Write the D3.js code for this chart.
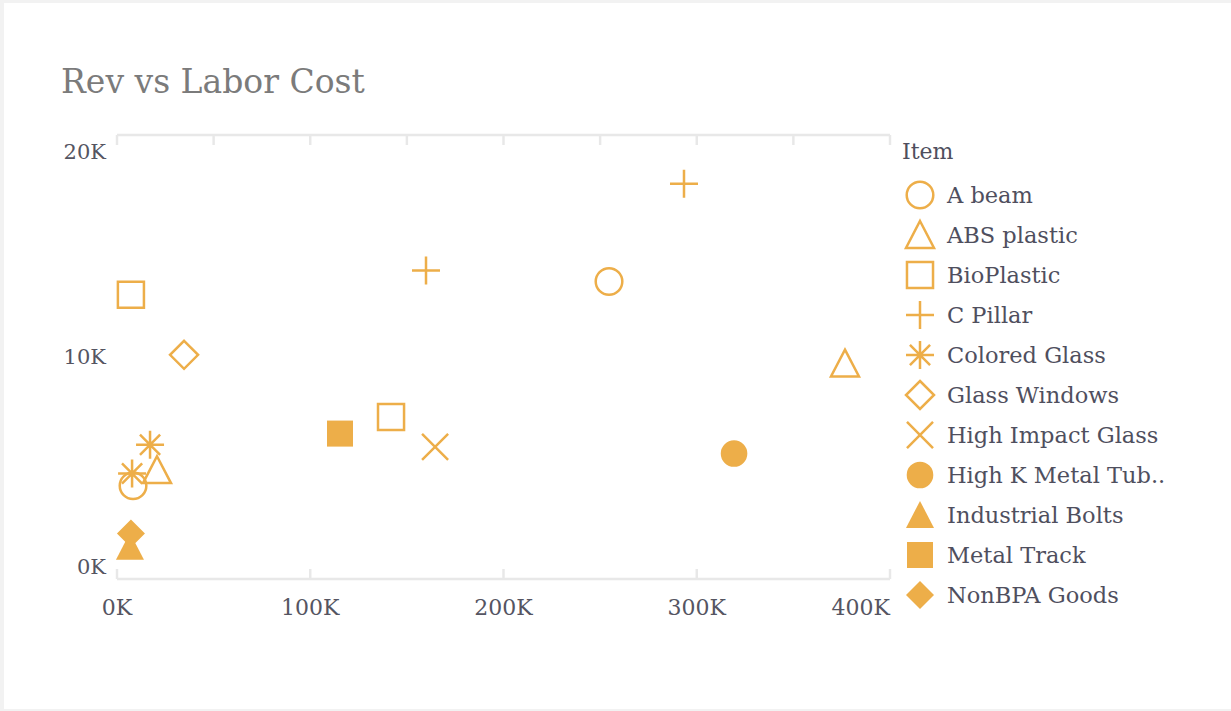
<!DOCTYPE html>
<html>
<head>
<meta charset="utf-8">
<script src="https://cdnjs.cloudflare.com/ajax/libs/d3/7.8.5/d3.min.js"></script>
<style>
  html, body { margin: 0; padding: 0; background: #f2f2f2; }
  #chart { position: absolute; left: 4px; top: 3px; width: 1227px; height: 706px; background: #fff; }
  text { font-family: "DejaVu Serif", serif; }
</style>
</head>
<body>
<div id="chart"></div>
<script>
// items (legend order) and their marker shapes
var items = ["A beam", "ABS plastic", "BioPlastic", "C Pillar", "Colored Glass", "Glass Windows",
             "High Impact Glass", "High K Metal Tub..", "Industrial Bolts", "Metal Track", "NonBPA Goods"];
var shapes = ["circle", "triangle", "square", "plus", "asterisk", "diamond",
              "x", "circleFill", "triangleFill", "squareFill", "diamondFill"];

// one row per point: item, labor cost (x), rev (y)
var pointItem = ["A beam", "A beam", "ABS plastic", "ABS plastic", "BioPlastic", "BioPlastic",
                 "C Pillar", "C Pillar", "Colored Glass", "Colored Glass", "Glass Windows",
                 "High Impact Glass", "High K Metal Tub..", "Industrial Bolts", "Metal Track", "NonBPA Goods"];
var laborCost = [8300, 254600, 20700, 376700, 7200, 141800,
                 159900, 293400, 7800, 17100, 34700,
                 164600, 319300, 6700, 115400, 7200];
var rev = [4200, 13400, 4900, 9700, 12800, 7300,
           13900, 17800, 4750, 6050, 10100,
           5950, 5650, 1450, 6550, 2050];

var xTicks = [0, 100000, 200000, 300000, 400000];
var xTopTicks = [0, 50000, 100000, 150000, 200000, 250000, 300000, 350000, 400000];
var yTicks = [0, 10000, 20000];

(function(){
var color = "#edae49";
var width = 1227, height = 706;
var svg = d3.select("#chart").append("svg").attr("width", width).attr("height", height);

// plot area in page coords, shifted into the card
var ox = 4, oy = 3;
var pLeft = 117 - ox, pRight = 890 - ox, pTop = 135 - oy, pBottom = 579 - oy;

var x = d3.scaleLinear().domain([0, 400000]).range([pLeft, pRight]);
var y = d3.scaleLinear().domain([0, 20000]).range([pBottom, pTop]);
var fmt = function(v){ return (v / 1000) + "K"; };

svg.append("text")
    .attr("x", 61 - ox).attr("y", 93 - oy)
    .text("Rev vs Labor Cost")
    .attr("font-size", 33)
    .attr("fill", "#7b7b7b");

// frame lines
var axisColor = "#e8e8e8";
svg.append("line").attr("x1", pLeft).attr("x2", pRight).attr("y1", pTop).attr("y2", pTop)
    .attr("stroke", axisColor).attr("stroke-width", 2.5);
svg.append("line").attr("x1", pLeft).attr("x2", pRight).attr("y1", pBottom).attr("y2", pBottom)
    .attr("stroke", axisColor).attr("stroke-width", 2.5);
svg.selectAll(".ttick").data(xTopTicks).enter().append("line")
    .attr("x1", function(d){ return x(d); }).attr("x2", function(d){ return x(d); })
    .attr("y1", pTop).attr("y2", pTop + 10)
    .attr("stroke", axisColor).attr("stroke-width", 2.5);
svg.selectAll(".btick").data(xTicks).enter().append("line")
    .attr("x1", function(d){ return x(d); }).attr("x2", function(d){ return x(d); })
    .attr("y1", pBottom).attr("y2", pBottom - 10)
    .attr("stroke", axisColor).attr("stroke-width", 2.5);

// x labels
svg.selectAll(".xl").data(xTicks).enter().append("text")
    .attr("x", function(d){ return x(d); })
    .attr("y", 607 - oy)
    .attr("dominant-baseline", "central")
    .attr("text-anchor", function(d, i){ return i == xTicks.length - 1 ? "end" : "middle"; })
    .attr("font-size", 22)
    .attr("fill", "#555562")
    .text(fmt);

// y labels, clamped inside the frame
svg.selectAll(".yl").data(yTicks).enter().append("text")
    .attr("x", 106 - ox)
    .attr("y", function(d){ return Math.min(Math.max(y(d), pTop + 17), pBottom - 12); })
    .attr("dominant-baseline", "central")
    .attr("text-anchor", "end")
    .attr("font-size", 21)
    .attr("fill", "#555562")
    .text(fmt);

// marker paths around (0,0), r = half size
function shapePath(type, r) {
    var p = d3.path();
    var h = r * 0.93;
    if (type == "circle" || type == "circleFill") {
        p.arc(0, 0, r * 0.95, 0, 2 * Math.PI);
    } else if (type == "triangle" || type == "triangleFill") {
        p.moveTo(0, -r); p.lineTo(r, r * 0.92); p.lineTo(-r, r * 0.92); p.closePath();
    } else if (type == "square" || type == "squareFill") {
        p.rect(-h, -h, 2 * h, 2 * h);
    } else if (type == "diamond" || type == "diamondFill") {
        p.moveTo(0, -r); p.lineTo(r, 0); p.lineTo(0, r); p.lineTo(-r, 0); p.closePath();
    } else if (type == "plus") {
        p.moveTo(-r, 0); p.lineTo(r, 0); p.moveTo(0, -r); p.lineTo(0, r);
    } else if (type == "x") {
        p.moveTo(-h, -h); p.lineTo(h, h); p.moveTo(h, -h); p.lineTo(-h, h);
    } else if (type == "asterisk") {
        var d = r * 0.72;
        p.moveTo(0, -r); p.lineTo(0, r);
        p.moveTo(-r, 0); p.lineTo(r, 0);
        p.moveTo(-d, -d); p.lineTo(d, d);
        p.moveTo(d, -d); p.lineTo(-d, d);
    }
    return p.toString();
}
function isFilled(type){ return type.indexOf("Fill") > 0; }
function styleMark(sel, type) {
    sel.attr("d", shapePath(type, 14))
        .attr("fill", isFilled(type) ? color : "none")
        .attr("stroke", isFilled(type) ? "none" : color)
        .attr("stroke-width", 2.5);
}

var points = pointItem.map(function(it, i){
    return { item: it, lx: laborCost[i], rv: rev[i], shape: shapes[items.indexOf(it)] };
});
svg.selectAll(".pt").data(points).enter().append("path")
    .attr("transform", function(d){ return "translate(" + x(d.lx) + "," + y(d.rv) + ")"; })
    .each(function(d){ styleMark(d3.select(this), d.shape); });

// legend
svg.append("text")
    .attr("x", 902 - ox).attr("y", 151 - oy)
    .attr("dominant-baseline", "central")
    .attr("font-size", 22)
    .attr("fill", "#4f4f5e")
    .text("Item");

var lg = svg.selectAll(".lg").data(items).enter().append("g")
    .attr("transform", function(d, i){ return "translate(" + (920 - ox) + "," + (195 - oy + i * 40) + ")"; });
lg.append("path").each(function(d, i){ styleMark(d3.select(this), shapes[i]); });
lg.append("text")
    .attr("x", 27)
    .attr("dominant-baseline", "central")
    .attr("font-size", 22.5)
    .attr("fill", "#4f4f5e")
    .text(function(d){ return d; });
})();
</script>
</body>
</html>
